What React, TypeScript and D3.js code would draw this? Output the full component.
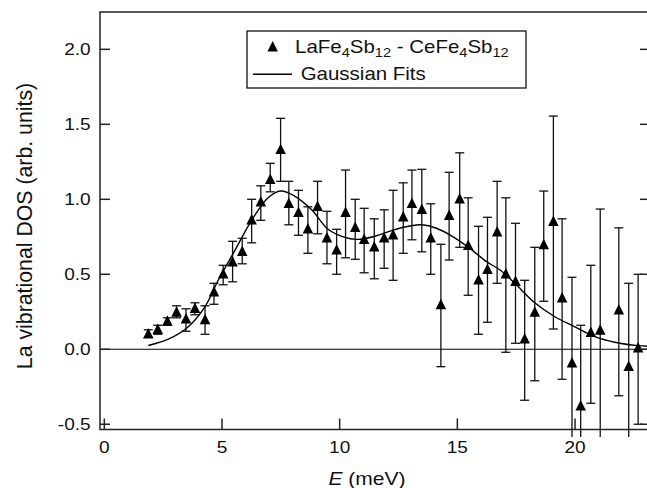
import React, { useRef, useEffect } from "react";
import * as d3 from "d3";

// LaFe4Sb12 - CeFe4Sb12 difference spectrum
const energy = [1.87, 2.27, 2.68, 3.07, 3.47, 3.85, 4.28, 4.66, 5.05, 5.45, 5.86, 6.26, 6.65, 7.05, 7.49, 7.84, 8.25, 8.65, 9.06, 9.46, 9.87, 10.25, 10.66, 11.04, 11.47, 11.89, 12.27, 12.7, 13.07, 13.49, 13.87, 14.3, 14.65, 15.1, 15.46, 15.9, 16.28, 16.69, 17.06, 17.47, 17.86, 18.29, 18.67, 19.08, 19.45, 19.87, 20.24, 20.67, 21.07, 21.86, 22.28, 22.68];
const dos = [0.1, 0.13, 0.185, 0.245, 0.2, 0.27, 0.195, 0.38, 0.5, 0.58, 0.65, 0.86, 0.98, 1.13, 1.33, 0.97, 0.91, 0.8, 0.95, 0.74, 0.66, 0.91, 0.81, 0.73, 0.68, 0.74, 0.76, 0.88, 0.97, 0.93, 0.74, 0.295, 0.89, 1.0, 0.69, 0.46, 0.53, 0.78, 0.5, 0.45, 0.067, 0.245, 0.695, 0.85, 0.34, -0.093, -0.38, 0.11, 0.125, 0.26, -0.116, 0.007];
const dosHigh = [0.13, 0.16, 0.21, 0.29, 0.27, 0.31, 0.29, 0.44, 0.56, 0.72, 0.74, 1.0, 1.09, 1.24, 1.54, 1.12, 1.06, 0.95, 1.12, 0.92, 0.8, 1.195, 1.0, 0.94, 0.87, 0.93, 1.06, 1.11, 1.195, 1.2, 0.97, 0.7, 1.18, 1.31, 1.01, 0.82, 0.88, 1.12, 1.01, 0.84, 0.46, 0.68, 1.055, 1.555, 0.87, 0.48, 0.16, 0.56, 0.935, 0.81, 0.44, 0.5];
const dosLow = [0.08, 0.1, 0.16, 0.21, 0.12, 0.23, 0.1, 0.3, 0.43, 0.45, 0.57, 0.71, 0.86, 1.05, 1.12, 0.83, 0.76, 0.64, 0.77, 0.57, 0.5, 0.61, 0.6, 0.51, 0.47, 0.54, 0.46, 0.64, 0.73, 0.65, 0.5, -0.116, 0.595, 0.68, 0.36, 0.1, 0.18, 0.44, -0.02, 0.04, -0.34, -0.21, 0.32, 0.135, -0.2, -0.67, -0.92, -0.36, -0.685, -0.31, -0.67, -0.5];

// Gaussian fit
const fitEnergy = [1.87, 2.72, 3.57, 4.28, 4.84, 5.55, 6.26, 6.96, 7.49, 8.1, 8.81, 9.51, 10.15, 10.72, 11.42, 12.27, 12.98, 13.49, 14.11, 14.82, 15.53, 16.24, 16.8, 17.44, 18.29, 19.14, 19.99, 20.84, 21.69, 22.68, 23.1];
const fitDos = [0.025, 0.067, 0.15, 0.284, 0.46, 0.66, 0.86, 1.01, 1.055, 1.02, 0.93, 0.8, 0.75, 0.733, 0.75, 0.795, 0.822, 0.83, 0.807, 0.75, 0.673, 0.584, 0.53, 0.44, 0.31, 0.217, 0.15, 0.084, 0.047, 0.024, 0.02];

const xTicks = [0, 5, 10, 15, 20];
const yTicks = [-0.5, 0, 0.5, 1, 1.5, 2];

const FONT = "'Liberation Sans', Arial, sans-serif";
const SX = 1.17; // text is a bit wider than tall in the original

export default function App() {
  const ref = useRef(null);

  useEffect(() => {
    const width = 647;
    const height = 488;
    const left = 100, right = 648, top = 12, bottom = 429.5;

    const svg = d3.select(ref.current);
    svg.selectAll("*").remove();

    const x = d3.scaleLinear().domain([-0.183, 23.1]).range([left, right]);
    const y = d3.scaleLinear().domain([-0.535, 2.249]).range([bottom, top]);

    svg.append("rect").attr("width", width).attr("height", height).attr("fill", "white");

    svg.append("clipPath").attr("id", "plotclip")
      .append("rect").attr("x", left).attr("y", 0).attr("width", right - left).attr("height", 437);

    // zero line
    svg.append("line")
      .attr("x1", left).attr("x2", right)
      .attr("y1", y(0)).attr("y2", y(0))
      .attr("stroke", "#000").attr("stroke-width", 1.2);

    // fit curve
    const line = d3.line()
      .x((d) => x(d[0]))
      .y((d) => y(d[1]))
      .curve(d3.curveCatmullRom);
    svg.append("path")
      .datum(fitEnergy.map((e, i) => [e, fitDos[i]]))
      .attr("clip-path", "url(#plotclip)")
      .attr("fill", "none")
      .attr("stroke", "#000")
      .attr("stroke-width", 1.4)
      .attr("d", line);

    // error bars
    const data = energy.map((e, i) => ({ e, v: dos[i], hi: dosHigh[i], lo: dosLow[i] }));
    const eb = svg.append("g").attr("clip-path", "url(#plotclip)")
      .attr("stroke", "#111").attr("stroke-width", 1.3);
    data.forEach((d) => {
      const cx = x(d.e);
      eb.append("line").attr("x1", cx).attr("x2", cx).attr("y1", y(d.hi)).attr("y2", y(d.lo));
      eb.append("line").attr("x1", cx - 4.5).attr("x2", cx + 4.5).attr("y1", y(d.hi)).attr("y2", y(d.hi));
      eb.append("line").attr("x1", cx - 4.5).attr("x2", cx + 4.5).attr("y1", y(d.lo)).attr("y2", y(d.lo));
    });

    // markers
    const tri = d3.symbol(d3.symbolTriangle, 48);
    svg.append("g").selectAll("path")
      .data(data)
      .enter()
      .append("path")
      .attr("d", tri)
      .attr("transform", (d) => `translate(${x(d.e)},${y(d.v) + 0.8}) scale(1,1.15)`)
      .attr("fill", "#000");

    // frame
    const ax = svg.append("g").attr("stroke", "#222").attr("stroke-width", 1.5).attr("fill", "none");
    ax.append("rect").attr("x", left).attr("y", top).attr("width", right - left).attr("height", bottom - top);

    xTicks.forEach((t) => {
      ax.append("line").attr("x1", x(t)).attr("x2", x(t)).attr("y1", bottom).attr("y2", bottom - 11);
    });
    yTicks.forEach((t) => {
      ax.append("line").attr("x1", left).attr("x2", left + 10).attr("y1", y(t)).attr("y2", y(t));
      ax.append("line").attr("x1", right).attr("x2", right - 8).attr("y1", y(t)).attr("y2", y(t));
    });

    const txt = svg.append("g").attr("font-family", FONT).attr("fill", "#111");

    xTicks.forEach((t) => {
      txt.append("text")
        .attr("transform", `translate(${x(t)},453.3) scale(${SX},1)`)
        .attr("text-anchor", "middle")
        .attr("font-size", 16.3)
        .text(String(t));
    });
    yTicks.forEach((t) => {
      txt.append("text")
        .attr("transform", `translate(90.7,${y(t) + 5.9}) scale(${SX},1)`)
        .attr("text-anchor", "end")
        .attr("font-size", 16.3)
        .text(t.toFixed(1));
    });

    // x label
    const xl = txt.append("text")
      .attr("transform", `translate(367,485) scale(${SX},1)`)
      .attr("text-anchor", "middle")
      .attr("font-size", 18);
    xl.append("tspan").attr("font-style", "italic").text("E");
    xl.append("tspan").text(" (meV)");

    // y label
    txt.append("text")
      .attr("transform", `translate(31.5,226) scale(1.05,1) rotate(-90)`)
      .attr("text-anchor", "middle")
      .attr("font-size", 21.3)
      .text("La vibrational DOS (arb. units)");

    // legend
    const lg = svg.append("g");
    lg.append("rect")
      .attr("x", 247).attr("y", 31).attr("width", 279).attr("height", 57)
      .attr("fill", "white").attr("stroke", "#111").attr("stroke-width", 1.3);
    lg.append("path")
      .attr("d", tri)
      .attr("transform", "translate(272.7,48) scale(1,1.15)")
      .attr("fill", "#000");
    lg.append("line")
      .attr("x1", 253).attr("x2", 292).attr("y1", 74.3).attr("y2", 74.3)
      .attr("stroke", "#000").attr("stroke-width", 1.4);

    const l1 = lg.append("text")
      .attr("transform", `translate(295,53.3) scale(${SX},1)`)
      .attr("font-family", FONT).attr("font-size", 17.5).attr("fill", "#111");
    const parts = [["LaFe", false], ["4", true], ["Sb", false], ["12", true], [" - CeFe", false], ["4", true], ["Sb", false], ["12", true]];
    parts.forEach(([s, sub]) => {
      const ts = l1.append("tspan").text(s as string);
      if (sub) ts.attr("font-size", 12.5).attr("baseline-shift", "-4");
    });
    lg.append("text")
      .attr("transform", `translate(300.7,80) scale(${SX},1)`)
      .attr("font-family", FONT).attr("font-size", 17.5).attr("fill", "#111")
      .text("Gaussian Fits");
  }, []);

  return (
    <svg
      ref={ref}
      width={647}
      height={488}
      style={{ position: "absolute", left: 0, top: 0 }}
    />
  );
}
